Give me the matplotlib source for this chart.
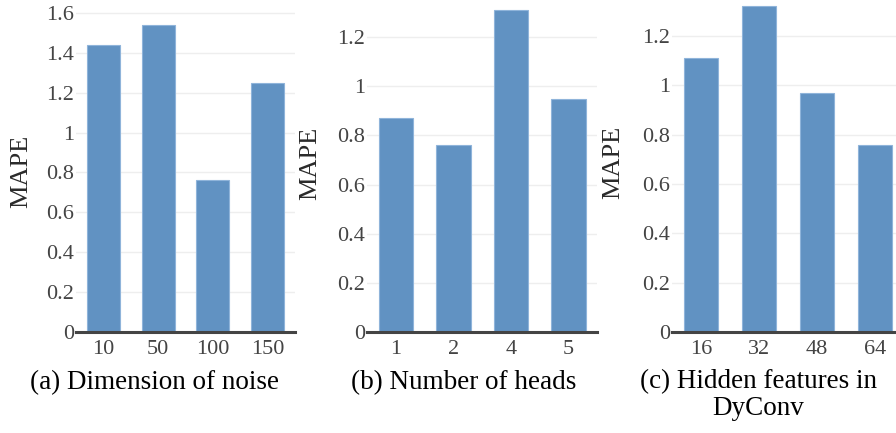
import matplotlib
matplotlib.use("Agg")
import matplotlib.pyplot as plt
from matplotlib.ticker import FuncFormatter

plt.rcParams["font.family"] = ["Liberation Serif", "DejaVu Serif"]

# data
noise_dims = ["10", "50", "100", "150"]
noise_mape = [1.44, 1.54, 0.76, 1.25]

num_heads = ["1", "2", "4", "5"]
heads_mape = [0.87, 0.76, 1.31, 0.95]

hidden_feats = ["16", "32", "48", "64"]
hidden_mape = [1.11, 1.32, 0.97, 0.76]

BAR = "#6192c2"
EDGE = "#8fb4da"
GRID = "#eeeeee"
TICK = "#444444"

W, H = 896, 433
fig = plt.figure(figsize=(W / 100, H / 100), dpi=100)


def panel(x0, x1, ytop, cats, vals, yticks):
    ax = fig.add_axes([x0 / W, (H - 332) / H, (x1 - x0) / W, 332 / H])
    ax.bar(range(len(cats)), vals, width=0.6, color=BAR,
           edgecolor=EDGE, linewidth=0.8, zorder=3)
    ax.set_xlim(-0.5, len(cats) - 0.5)
    ax.set_ylim(0, ytop)
    ax.set_xticks(range(len(cats)))
    ax.set_xticklabels(cats)
    ax.set_yticks(yticks)
    ax.yaxis.set_major_formatter(FuncFormatter(lambda v, p: "%g" % round(v, 2)))
    ax.tick_params(axis="both", length=0, labelsize=16, labelcolor=TICK)
    ax.tick_params(axis="y", pad=1.5)
    ax.tick_params(axis="x", pad=5.5)
    for s in ax.spines.values():
        s.set_visible(False)
    ax.grid(axis="y", color=GRID, linewidth=1, zorder=0)
    ax.axhline(0, color="#444444", linewidth=2.2, zorder=4, clip_on=False)
    ax.set_facecolor("none")
    return ax


panel(76, 295, 1.665, noise_dims, noise_mape, [0, .2, .4, .6, .8, 1, 1.2, 1.4, 1.6])
panel(367, 597, 1.351, num_heads, heads_mape, [0, .2, .4, .6, .8, 1, 1.2])
panel(672, 904, 1.346, hidden_feats, hidden_mape, [0, .2, .4, .6, .8, 1, 1.2])

for x, y in [(21, 171), (310, 163), (613, 162)]:
    fig.text(x / W, (H - y) / H, "MAPE", rotation=90, ha="center", va="center",
             fontsize=19, color="#2a2a2a")

fig.text(154 / W, (H - 383) / H, "(a) Dimension of noise", ha="center",
         va="center", fontsize=19.5, color="black")
fig.text(464 / W, (H - 383) / H, "(b) Number of heads", ha="center",
         va="center", fontsize=19.5, color="black")
fig.text(758 / W, (H - 369) / H, "(c) Hidden features in\nDyConv", ha="center",
         va="top", fontsize=19.5, color="black", linespacing=1.1)

fig.savefig("out.png", dpi=100)
